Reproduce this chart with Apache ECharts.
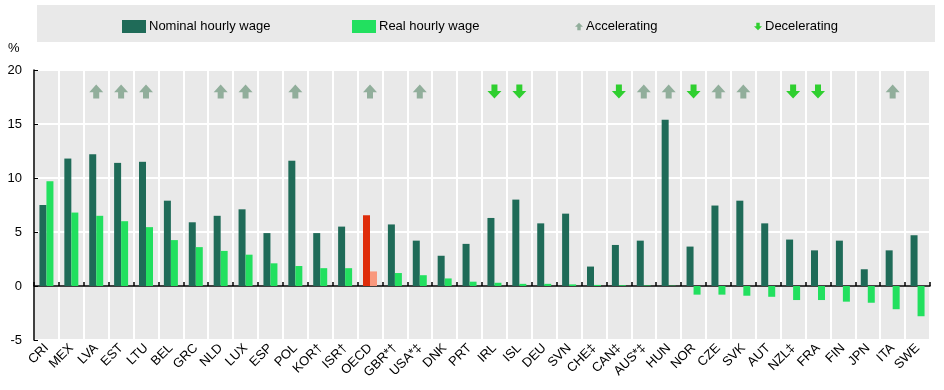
<!DOCTYPE html>
<html>
<head>
<meta charset="utf-8">
<script src="https://cdn.jsdelivr.net/npm/echarts@6/dist/echarts.min.js"></script>
<style>
html,body{margin:0;padding:0;background:#fff;}
#chart{width:944px;height:390px;}
</style>
</head>
<body>
<div id="chart"></div>
<script>
var categories = ['CRI','MEX','LVA','EST','LTU','BEL','GRC','NLD','LUX','ESP','POL','KOR\u2020','ISR\u2020','OECD','GBR*\u2020','USA*\u2021','DNK','PRT','IRL','ISL','DEU','SVN','CHE\u2021','CAN\u2021','AUS*\u2021','HUN','NOR','CZE','SVK','AUT','NZL\u2021','FRA','FIN','JPN','ITA','SWE'];
var nominal = [7.5,11.8,12.2,11.4,11.5,7.9,5.9,6.5,7.1,4.9,11.6,4.9,5.5,6.55,5.7,4.2,2.8,3.9,6.3,8.0,5.8,6.7,1.8,3.8,4.2,15.4,3.65,7.45,7.9,5.8,4.3,3.3,4.2,1.55,3.3,4.7];
var real = [9.7,6.8,6.5,6.0,5.45,4.25,3.6,3.25,2.9,2.1,1.85,1.65,1.65,1.35,1.2,1.0,0.7,0.4,0.3,0.2,0.2,0.15,0.1,0.07,0.05,0.03,-0.8,-0.8,-0.9,-1.0,-1.3,-1.3,-1.45,-1.55,-2.15,-2.8];
// 1 = accelerating, -1 = decelerating, 0 = none
var trend = [0,0,1,1,1,0,0,1,1,0,1,0,0,1,0,1,0,0,-1,-1,0,0,0,-1,1,1,-1,1,1,0,-1,-1,0,0,1,0];
var arrowLevel = 18;
var yTicks = {min:-5, max:20, interval:5};

var nomColor = '#1f6b58', realColor = '#22e05f';
var oecdNom = '#df2d0b', oecdReal = '#f9987d';
var accColor = '#7a9f87', decColor = '#00c800';
var upPath = 'path://M7,0 L14,7 L10,7 L10,13 L4,13 L4,7 L0,7 Z';
var downPath = 'path://M4,0 L10,0 L10,6 L14,6 L7,13 L0,6 L4,6 Z';

var oecdIdx = categories.indexOf('OECD');
var nomData = nominal.map(function(v,i){
  return i===oecdIdx ? {value:v, itemStyle:{color:oecdNom}} : v;
});
var realData = real.map(function(v,i){
  return i===oecdIdx ? {value:v, itemStyle:{color:oecdReal}} : v;
});
var accData = trend.map(function(t){ return t===1 ? arrowLevel : '-'; });
var decData = trend.map(function(t){ return t===-1 ? arrowLevel : '-'; });

var font = '"Liberation Sans Narrow", "Liberation Sans", Arial, sans-serif';
var chart = echarts.init(document.getElementById('chart'), null, {renderer:'canvas'});
function lg(name, left, icon, w, h){
  return {
    data:[{name:name, icon:icon}], left:left, top:20, padding:0, itemWidth:w, itemHeight:h, itemGap:0,
    textStyle:{fontSize:13, color:'#000', fontFamily:font, padding:[0,0,0,-2]},
    selectedMode:false
  };
}
chart.setOption({
  animation:false,
  backgroundColor:'#fff',
  textStyle:{fontFamily:font},
  graphic:[
    {type:'rect', z:-10, shape:{x:37,y:5,width:898,height:37}, style:{fill:'#e9e9e9'}},
    {type:'text', left:8, top:42, style:{text:'%', fontSize:13, fill:'#000', font:'13px '+font}}
  ],
  legend:[
    lg('Nominal hourly wage',122,'rect',24,13),
    lg('Real hourly wage',352,'rect',24,13),
    lg('Accelerating',575,upPath,8,10),
    lg('Decelerating',754,downPath,8,10)
  ],
  grid:{left:34, right:14, top:70, bottom:50, show:true, backgroundColor:'#e9e9e9', borderWidth:0},
  xAxis:[
    {type:'category', data:categories, position:'bottom',
     axisLine:{show:false, onZero:false}, axisTick:{show:false},
     axisLabel:{interval:0, rotate:45, fontSize:13, color:'#000', margin:6, fontFamily:font},
     splitLine:{show:true, interval:0, lineStyle:{color:'#fff', width:2}}},
    {type:'category', data:categories, position:'bottom',
     axisLine:{show:true, onZero:true, lineStyle:{color:'#000', width:1.5}},
     axisTick:{show:true, interval:0, inside:true, length:4, lineStyle:{color:'#000', width:1.5}},
     axisLabel:{show:false}, splitLine:{show:false}}
  ],
  yAxis:{type:'value', min:yTicks.min, max:yTicks.max, interval:yTicks.interval,
    axisLine:{show:true, lineStyle:{color:'#000', width:1.5}},
    axisTick:{show:true, inside:true, length:4, lineStyle:{color:'#000'}},
    axisLabel:{fontSize:13, color:'#000', margin:12, fontFamily:font},
    splitLine:{show:true, lineStyle:{color:'#fff', width:2}}},
  series:[
    {name:'Nominal hourly wage', type:'bar', xAxisIndex:0, data:nomData, barWidth:7, barGap:'0%',
     itemStyle:{color:nomColor}},
    {name:'Real hourly wage', type:'bar', xAxisIndex:0, data:realData, barWidth:7, barGap:'0%',
     itemStyle:{color:realColor}},
    {name:'Accelerating', type:'scatter', xAxisIndex:0, data:accData, symbol:upPath, symbolSize:[14,14],
     itemStyle:{color:accColor}},
    {name:'Decelerating', type:'scatter', xAxisIndex:0, data:decData, symbol:downPath, symbolSize:[14,14],
     itemStyle:{color:decColor}}
  ]
});
</script>
</body>
</html>
